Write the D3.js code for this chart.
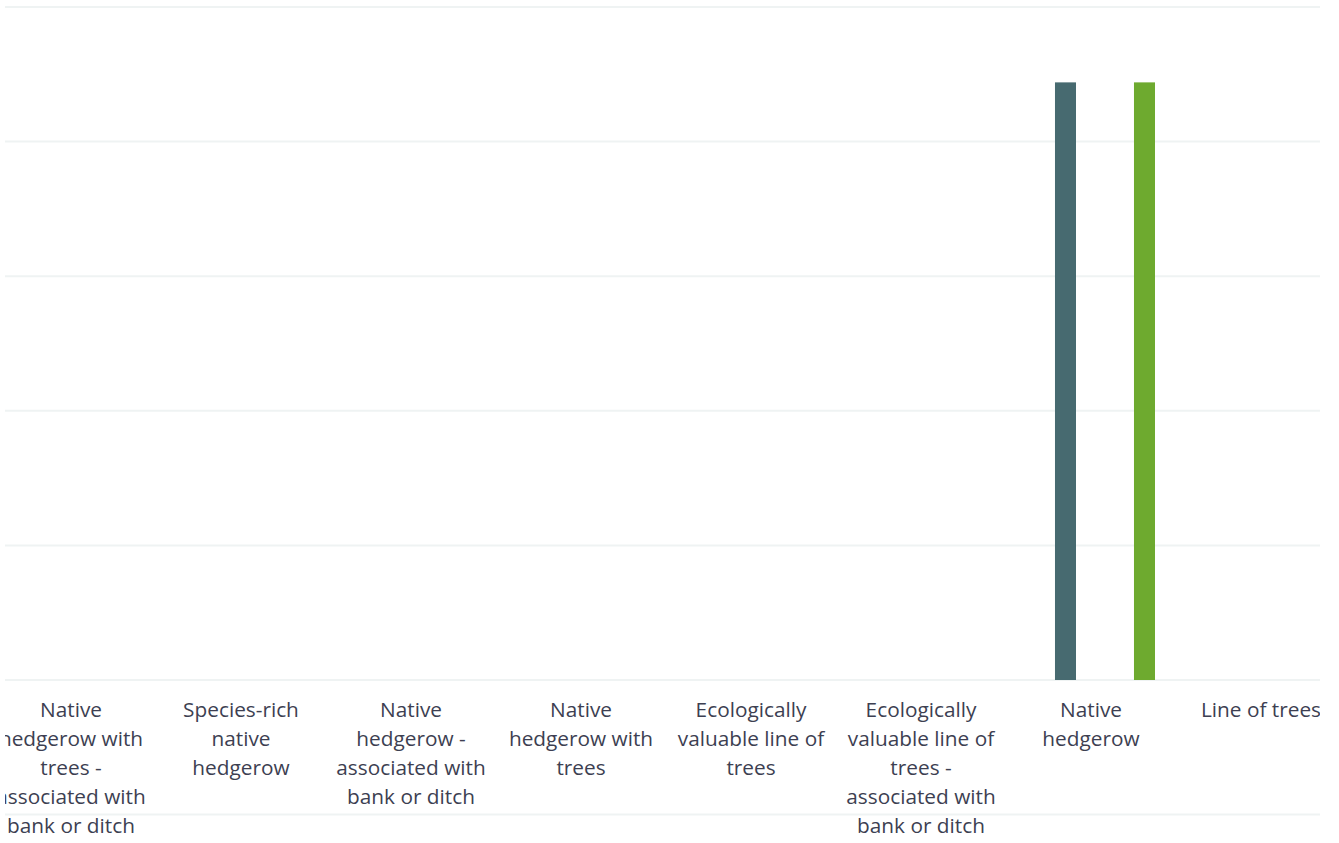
<!DOCTYPE html>
<html>
<head>
<meta charset="utf-8">
<script src="https://cdn.jsdelivr.net/npm/d3@7"></script>
<style>
  html, body { margin: 0; padding: 0; background: #ffffff; }
  svg { display: block; }
</style>
</head>
<body>
<svg id="chart" width="1339" height="843"></svg>
<script>
// ---- data ----
const categories = [
  "Native hedgerow with trees - associated with bank or ditch",
  "Species-rich native hedgerow",
  "Native hedgerow - associated with bank or ditch",
  "Native hedgerow with trees",
  "Ecologically valuable line of trees",
  "Ecologically valuable line of trees - associated with bank or ditch",
  "Native hedgerow",
  "Line of trees"
];
const categoryLabelLines = [
  ["Native", "hedgerow with", "trees -", "associated with", "bank or ditch"],
  ["Species-rich", "native", "hedgerow"],
  ["Native", "hedgerow -", "associated with", "bank or ditch"],
  ["Native", "hedgerow with", "trees"],
  ["Ecologically", "valuable line of", "trees"],
  ["Ecologically", "valuable line of", "trees -", "associated with", "bank or ditch"],
  ["Native", "hedgerow"],
  ["Line of trees"]
];
const seriesNames = ["Series 1", "Series 2", "Series 3", "Series 4"];
const seriesColors = ["#476a70", "#476a70", "#6eaa2f", "#6eaa2f"];
const series1 = [0, 0, 0, 0, 0, 0, 0, 0];
const series2 = [0, 0, 0, 0, 0, 0, 4.44, 0];
const series3 = [0, 0, 0, 0, 0, 0, 0, 0];
const series4 = [0, 0, 0, 0, 0, 0, 4.44, 0];
const yTicks = [0, 1, 2, 3, 4, 5];

const seriesValues = [series1, series2, series3, series4];

// ---- layout ----
const svg = d3.select("#chart");
const clipLeft = 5, clipRight = 1320;

svg.append("defs").append("clipPath").attr("id", "plotclip")
  .append("rect").attr("x", clipLeft).attr("y", 0)
  .attr("width", clipRight - clipLeft).attr("height", 843);

const g = svg.append("g").attr("clip-path", "url(#plotclip)");

const x = d3.scaleBand().domain(categories).range([-14, 1346]).padding(0);
const xs = d3.scaleBand().domain(seriesNames).range([0, x.bandwidth()])
  .paddingInner(0.468).paddingOuter(0.386).align(0.311);
const y = d3.scaleLinear().domain([0, 5]).range([680, 7]);

// gridlines
const gridY = yTicks.concat([-1]);
g.append("g").selectAll("line").data(gridY).join("line")
  .attr("x1", clipLeft).attr("x2", clipRight)
  .attr("y1", d => y(d)).attr("y2", d => y(d))
  .attr("stroke", "#eff3f3").attr("stroke-width", 2);

// bars
const rows = [];
categories.forEach((c, ci) => {
  seriesNames.forEach((s, si) => {
    rows.push({ cat: c, ser: s, value: seriesValues[si][ci], color: seriesColors[si] });
  });
});
g.append("g").selectAll("rect").data(rows.filter(d => d.value > 0)).join("rect")
  .attr("x", d => x(d.cat) + xs(d.ser))
  .attr("width", xs.bandwidth())
  .attr("y", d => y(d.value))
  .attr("height", d => y(0) - y(d.value))
  .attr("fill", d => d.color);

// category labels
const labels = g.append("g").selectAll("text").data(categories).join("text")
  .attr("text-anchor", "middle")
  .attr("font-family", "'Open Sans', sans-serif")
  .attr("font-size", 20.8)
  .attr("fill", "#3d3f52");
labels.each(function (d, i) {
  const t = d3.select(this);
  categoryLabelLines[i].forEach((line, li) => {
    t.append("tspan")
      .attr("x", x(d) + x.bandwidth() / 2)
      .attr("y", 717 + li * 29)
      .text(line);
  });
});
</script>
</body>
</html>
